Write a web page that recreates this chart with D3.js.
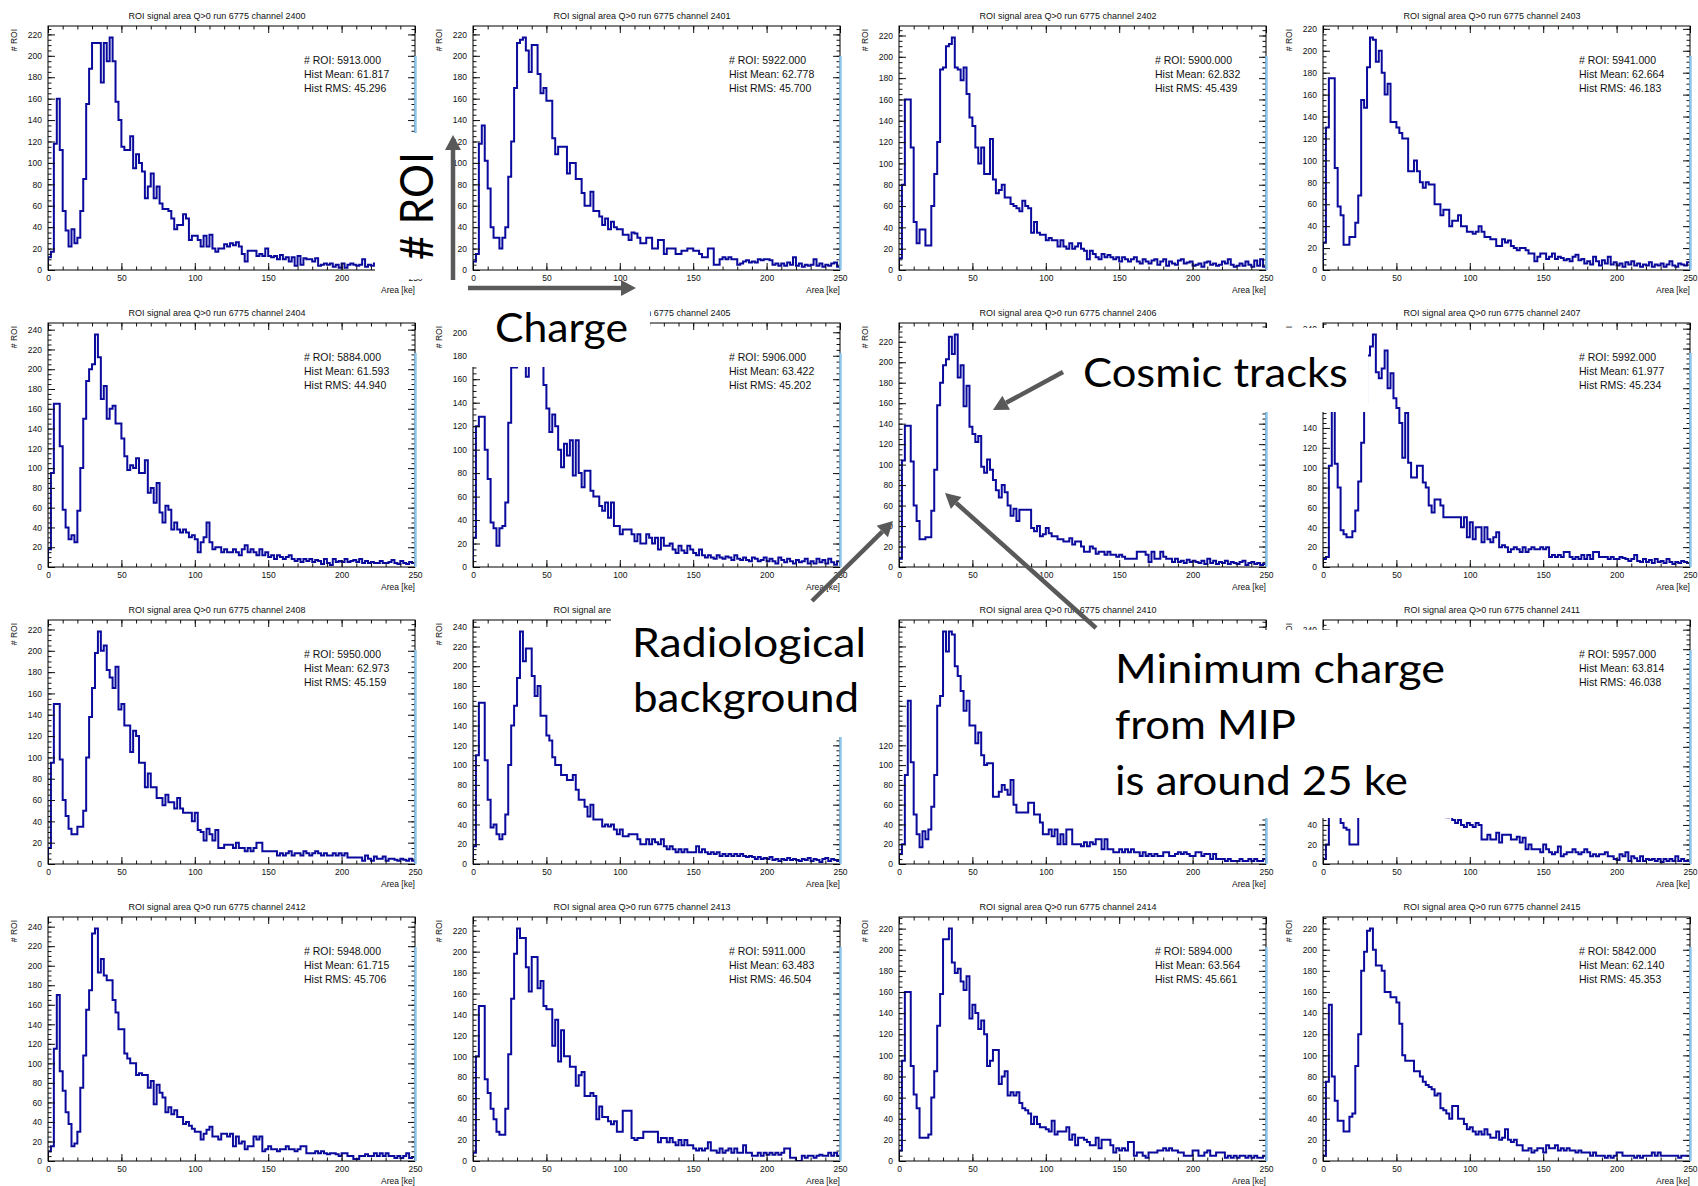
<!DOCTYPE html>
<html>
<head>
<meta charset="utf-8">
<script src="https://cdn.jsdelivr.net/npm/d3@7"></script>
<style>
  body { margin: 0; background: #fff; }
  svg { display: block; }
</style>
</head>
<body>
<div id="chart"></div>
<script>
// channel ids, one panel each (row-major, 4 x 4)
const channels = [2400, 2401, 2402, 2403, 2404, 2405, 2406, 2407, 2408, 2409, 2410, 2411, 2412, 2413, 2414, 2415];

// stats box values (null where the slide covers them)
const nRoi     = [5913, 5922, 5900, 5941, 5884, 5906, null, 5992, 5950, null, null, 5957, 5948, 5911, 5894, 5842];
const histMean = [61.817, 62.778, 62.832, 62.664, 61.593, 63.422, null, 61.977, 62.973, null, null, 63.814, 61.715, 63.483, 63.564, 62.140];
const histRms  = [45.296, 45.700, 45.439, 46.183, 44.940, 45.202, null, 45.234, 45.159, null, null, 46.038, 45.706, 46.504, 45.661, 45.353];

// bin contents, 2 ke bins from 0 to 250 ke
const c2400 = [12,17,118,160,112,55,37,22,38,25,30,55,85,155,188,212,212,212,175,212,195,217,195,157,140,115,112,112,125,95,108,100,92,67,78,90,67,78,62,57,57,55,48,38,42,42,52,48,28,32,32,28,22,32,22,33,20,17,20,20,24,22,25,23,26,22,15,8,18,18,18,13,15,13,20,13,12,13,10,14,10,12,8,12,4,13,5,11,10,10,8,11,4,5,6,5,6,3,5,2,6,2,5,6,5,4,5,10,3,5,4,6,3,5,4,3,5,4,3,5,4,2,4,3,3];
const c2401 = [8,15,118,135,102,76,40,30,30,20,30,40,87,120,170,212,215,217,205,185,210,210,183,165,170,158,158,123,108,115,115,115,90,100,100,85,85,72,60,60,73,55,55,50,42,48,38,45,40,38,38,33,33,28,35,34,30,25,25,30,30,20,20,28,28,15,20,20,20,15,15,18,18,20,20,18,18,15,12,12,20,20,5,5,10,12,10,12,10,10,5,6,8,9,7,8,7,10,9,10,10,9,5,6,4,6,4,7,5,12,4,6,3,5,4,5,10,4,6,3,5,4,6,7,3];
const c2402 = [11,80,160,160,115,45,25,38,38,23,23,60,90,120,188,190,210,212,218,190,188,178,190,165,143,135,115,100,115,90,90,123,85,72,75,80,68,68,62,60,58,55,65,60,58,35,45,35,33,33,28,30,28,28,22,28,22,20,25,20,22,25,20,18,10,18,15,12,10,15,12,14,12,10,12,8,12,10,8,10,12,8,6,10,8,6,9,10,5,8,10,4,8,6,5,9,10,6,7,8,4,5,6,3,7,8,5,6,4,5,8,6,10,5,3,4,6,4,8,5,3,9,4,10,3];
const c2403 = [25,130,175,175,93,58,50,23,23,30,30,43,68,155,148,185,212,210,190,200,180,160,170,135,135,130,125,120,120,90,90,100,90,80,75,80,78,78,60,60,50,55,55,40,45,45,50,40,40,35,35,33,35,40,35,30,30,28,28,22,22,28,25,27,22,20,18,20,20,18,15,15,8,12,15,15,10,12,15,10,12,11,9,10,8,12,14,9,10,6,8,5,12,8,4,9,6,12,5,7,4,6,3,7,5,8,4,6,3,5,4,7,3,5,4,6,3,5,8,4,3,6,5,4,7];
const c2404 = [18,95,165,165,122,58,40,28,32,25,57,100,150,188,200,205,235,212,170,183,150,160,163,145,145,130,112,98,103,100,110,95,95,108,75,80,65,85,55,45,62,58,38,45,38,35,38,35,30,32,28,15,25,30,45,25,18,20,20,15,18,15,15,18,15,12,18,22,15,18,15,12,18,12,15,10,12,8,12,10,8,10,12,8,6,8,5,8,6,8,5,7,6,3,8,4,2,8,5,6,5,8,5,6,7,5,8,4,6,4,5,4,4,6,4,4,5,7,4,3,6,4,3,5,4];
const c2405 = [25,120,128,128,100,75,38,33,18,33,35,55,123,170,170,185,195,198,162,185,190,178,172,172,155,135,115,130,120,100,85,105,95,108,78,108,80,68,82,82,65,60,60,52,48,55,42,55,35,35,28,32,32,32,28,22,28,20,20,28,25,20,25,15,25,18,18,20,15,12,18,14,12,18,15,12,10,15,10,8,10,8,7,10,8,7,9,8,6,10,7,6,8,6,5,8,7,5,6,8,5,7,5,3,8,6,4,7,5,3,6,4,5,7,3,5,3,7,4,6,3,7,4,2,5];
const c2406 = [8,104,138,138,103,60,45,27,27,29,29,55,95,158,180,197,203,225,208,227,185,197,157,177,137,130,122,128,98,92,105,95,85,75,68,80,73,60,50,57,45,56,56,56,56,38,35,40,30,32,38,33,30,30,27,27,25,25,28,22,25,25,20,15,15,20,18,13,15,15,12,15,12,12,10,12,10,8,8,8,8,15,15,15,12,5,15,8,8,15,10,8,8,5,8,5,6,4,7,5,6,5,4,6,3,8,4,6,3,5,4,6,3,5,4,3,5,6,2,4,5,3,4,2,3];
const c2407 = [8,10,102,162,104,80,37,33,30,30,36,57,86,125,165,213,222,234,196,190,200,218,180,195,170,160,145,110,155,105,90,90,102,102,85,80,62,55,68,68,62,50,50,50,50,50,50,40,50,30,45,28,40,40,25,40,28,25,30,35,20,22,20,15,18,20,18,15,20,15,18,20,18,18,20,18,20,10,12,10,12,10,15,15,10,8,10,8,12,8,12,8,15,15,10,10,10,8,10,8,8,10,9,8,6,8,12,6,5,8,5,7,4,8,5,6,4,8,5,3,5,4,6,5,4];
const c2408 = [15,95,150,150,98,60,45,33,28,28,35,35,50,100,138,165,198,218,200,205,182,175,165,185,145,150,130,130,105,125,120,95,95,72,85,72,72,62,62,55,65,58,58,52,62,52,48,48,48,40,48,32,30,22,33,28,22,32,15,15,18,18,18,15,20,15,15,12,15,12,15,20,20,12,12,12,12,12,8,10,8,10,12,8,10,10,8,12,10,8,10,12,10,8,10,8,8,10,8,10,8,10,6,6,6,6,6,3,8,5,3,7,5,5,7,3,5,5,4,3,5,4,3,5,3];
const c2409 = [18,110,163,163,105,65,37,40,30,25,30,50,100,140,160,188,235,205,218,218,190,170,180,150,150,130,125,108,100,100,90,90,85,85,90,75,65,65,58,48,60,45,45,45,38,40,38,40,35,30,35,28,28,30,30,30,25,20,20,25,20,25,22,20,25,18,15,18,15,12,15,12,15,12,12,12,18,12,15,12,10,12,10,12,8,10,8,10,8,10,8,10,8,7,8,7,5,7,5,6,5,7,4,5,3,5,4,6,4,5,4,3,5,4,6,3,5,4,2,5,6,3,5,4,3];
const c2410 = [10,20,90,165,103,50,30,17,33,25,35,58,90,160,170,235,215,235,232,200,190,175,155,165,140,140,122,133,110,100,102,102,68,68,73,80,75,70,85,60,52,52,52,52,62,62,50,50,42,30,30,35,28,35,20,30,20,35,35,20,20,20,18,22,18,22,20,25,25,15,25,15,15,12,12,15,12,15,12,15,12,12,8,12,8,10,8,10,8,8,12,12,8,8,10,12,10,12,10,8,8,12,12,8,10,10,5,10,5,5,5,3,5,3,3,3,5,3,3,5,3,5,3,3,5];
const c2411 = [5,20,130,168,110,65,42,37,35,20,20,20,60,120,175,200,238,215,220,205,190,185,165,170,145,140,125,118,105,110,98,95,85,88,75,70,72,60,62,55,52,55,48,50,45,42,45,40,38,42,40,38,42,40,25,25,30,25,25,32,22,30,30,30,25,25,28,22,27,15,20,15,15,15,12,20,15,12,10,12,18,8,10,12,12,15,12,10,12,15,12,8,10,8,10,10,12,8,8,5,4,10,8,12,3,8,6,3,8,3,5,4,5,3,5,2,5,3,5,3,8,3,5,3,3];
const c2412 = [10,15,115,170,92,72,50,38,15,18,30,75,108,155,175,233,238,193,207,190,185,185,165,152,135,135,110,105,100,100,88,90,88,88,75,82,58,78,70,65,50,55,48,52,45,45,38,40,36,33,30,30,22,28,32,35,25,25,22,28,28,25,28,15,25,18,20,12,15,15,25,22,25,10,12,15,12,12,10,12,12,15,12,12,10,12,15,15,8,8,8,10,8,10,8,7,8,8,7,5,8,8,5,5,2,2,5,5,7,5,5,8,5,8,5,8,5,5,3,5,3,5,8,3,4];
const c2413 = [8,100,148,148,78,65,50,40,28,25,25,50,102,155,198,222,213,213,185,162,195,195,165,172,148,145,145,110,135,95,125,100,100,90,90,72,82,85,62,62,65,62,40,52,42,42,38,35,38,28,28,48,48,48,22,20,22,22,28,28,28,28,28,18,22,22,18,22,18,15,20,15,20,15,15,12,10,12,10,12,18,10,10,8,12,8,10,12,8,12,8,8,15,8,8,5,5,8,5,8,6,8,6,8,6,8,12,12,3,3,0,0,5,3,5,5,3,5,6,5,5,8,5,8,5];
const c2414 = [10,95,160,160,90,63,50,22,22,22,25,60,85,128,158,210,210,220,188,178,182,170,162,175,135,148,140,125,133,120,90,95,105,105,73,80,85,62,65,62,65,55,50,48,45,35,42,35,32,32,30,28,38,25,28,28,28,32,20,25,15,22,22,20,18,15,15,22,12,20,20,20,15,8,12,10,12,10,18,18,5,8,8,5,3,8,8,8,10,10,12,10,12,10,10,8,8,5,5,5,10,10,5,5,8,10,5,5,8,8,8,3,5,3,5,3,5,5,3,5,3,5,3,3,5];
const c2415 = [5,75,148,80,57,38,38,28,28,42,45,90,120,180,198,218,220,200,185,185,180,160,160,155,155,150,130,100,95,95,95,85,85,80,75,72,70,68,62,64,50,48,45,40,52,52,40,40,35,30,32,28,25,28,25,30,25,22,22,28,20,22,30,20,18,20,15,15,10,10,12,8,10,12,12,8,15,12,12,15,10,12,10,12,10,10,8,10,8,8,8,5,8,5,5,5,3,5,3,5,8,8,5,5,5,5,3,5,3,5,5,5,8,5,8,5,5,5,5,5,5,3,5,5,5];

const allCounts = [c2400, c2401, c2402, c2403, c2404, c2405, c2406, c2407,
                   c2408, c2409, c2410, c2411, c2412, c2413, c2414, c2415];

const xMajor = [0, 50, 100, 150, 200, 250];

// ---------------------------------------------------------------
const W = 1698, H = 1186;
const colLeft = [48, 473, 899, 1323];
const rowTop = [26, 323, 620, 917];
const fw = 367, fh = 244;
const rootFont = "'Liberation Sans', Arial, sans-serif";
const lineColor = "#0a0a9c";

const svg = d3.select("#chart").append("svg")
  .attr("width", W)
  .attr("height", H)
  .style("background", "#fff");

const defs = svg.append("defs");
defs.append("clipPath").attr("id", "frameClip")
  .append("rect").attr("width", fw).attr("height", fh);

const styleAxis = (g) => {
  g.select(".domain").remove();
  g.attr("font-family", rootFont).attr("font-size", 8.5).attr("color", "#111");
};

allCounts.forEach((vals, k) => {
  const col = k % 4, row = Math.floor(k / 4);
  const g = svg.append("g").attr("transform", `translate(${colLeft[col]},${rowTop[row]})`);

  const x = d3.scaleLinear().domain([0, 250]).range([0, fw]);
  const yMax = d3.max(vals) * 1.05;
  const y = d3.scaleLinear().domain([0, yMax]).range([fh, 0]);
  const binW = 250 / vals.length;

  // title
  g.append("text")
    .attr("x", 169).attr("y", -7.5)
    .attr("text-anchor", "middle")
    .attr("font-family", rootFont).attr("font-size", 9).attr("fill", "#111")
    .text(`ROI signal area Q>0 run 6775 channel ${channels[k]}`);

  // histogram outline
  const pts = [[0, 0]].concat(vals.map((v, i) => [i * binW, v]), [[250, vals[vals.length - 1]], [250, 0]]);
  const line = d3.line().x(d => x(d[0])).y(d => y(d[1])).curve(d3.curveStepAfter);
  g.append("path")
    .attr("d", line(pts))
    .attr("fill", "none")
    .attr("stroke", lineColor)
    .attr("stroke-width", 2)
    .attr("clip-path", "url(#frameClip)");

  // ticks, all four sides, pointing in
  const yMajor = d3.range(0, yMax, 20);
  const yMinor = d3.range(0, yMax, 5);
  const xMinor = d3.range(0, 251, 10);

  g.append("g").attr("transform", `translate(0,${fh})`)
    .call(d3.axisBottom(x).tickValues(xMinor).tickSize(-3.5).tickFormat("")).call(styleAxis);
  g.append("g").attr("transform", `translate(0,${fh})`)
    .call(d3.axisBottom(x).tickValues(xMajor).tickSize(-7).tickPadding(5)).call(styleAxis);
  g.append("g")
    .call(d3.axisTop(x).tickValues(xMinor).tickSize(-3.5).tickFormat("")).call(styleAxis);
  g.append("g")
    .call(d3.axisTop(x).tickValues(xMajor).tickSize(-7).tickFormat("")).call(styleAxis);
  g.append("g")
    .call(d3.axisLeft(y).tickValues(yMinor).tickSize(-3.5).tickFormat("")).call(styleAxis);
  g.append("g")
    .call(d3.axisLeft(y).tickValues(yMajor).tickSize(-7).tickPadding(6)).call(styleAxis);
  g.append("g").attr("transform", `translate(${fw},0)`)
    .call(d3.axisRight(y).tickValues(yMinor).tickSize(-3.5).tickFormat("")).call(styleAxis);
  g.append("g").attr("transform", `translate(${fw},0)`)
    .call(d3.axisRight(y).tickValues(yMajor).tickSize(-7).tickFormat("")).call(styleAxis);

  // frame
  g.append("rect")
    .attr("width", fw).attr("height", fh)
    .attr("fill", "none").attr("stroke", "#000").attr("stroke-width", 1);

  // light blue strip on the right edge (screenshot artefact)
  g.append("line")
    .attr("x1", fw + 0.5).attr("x2", fw + 0.5)
    .attr("y1", 30).attr("y2", fh)
    .attr("stroke", "#8cc6ee").attr("stroke-width", 2.5);

  // axis titles
  g.append("text")
    .attr("x", fw).attr("y", fh + 23)
    .attr("text-anchor", "end")
    .attr("font-family", rootFont).attr("font-size", 8.5).attr("fill", "#111")
    .text("Area [ke]");
  g.append("text")
    .attr("transform", `translate(-31,3) rotate(-90)`)
    .attr("text-anchor", "end")
    .attr("font-family", rootFont).attr("font-size", 8.5).attr("fill", "#111")
    .text("# ROI");

  // stats
  if (nRoi[k] !== null) {
    const lines = [
      `# ROI: ${nRoi[k].toFixed(3)}`,
      `Hist Mean: ${histMean[k].toFixed(3)}`,
      `Hist RMS: ${histRms[k].toFixed(3)}`
    ];
    g.append("g")
      .attr("font-family", rootFont).attr("font-size", 10.5).attr("fill", "#111")
      .selectAll("text")
      .data(lines)
      .join("text")
      .attr("x", 256)
      .attr("y", (d, i) => 38 + i * 14)
      .text(d => d);
  }
});

// ---------------------------------------------------------------
// slide annotations: white text boxes, labels and grey arrows
const ann = svg.append("g");

const boxes = [
  [375, 133, 68, 146],    // # ROI
  [472, 300, 178, 67],    // Charge
  [1075, 328, 293, 84],   // Cosmic tracks
  [611, 603, 285, 134],   // Radiological background
  [1100, 630, 370, 188]   // Minimum charge ...
];
ann.selectAll("rect.box")
  .data(boxes)
  .join("rect")
  .attr("class", "box")
  .attr("x", d => d[0]).attr("y", d => d[1])
  .attr("width", d => d[2]).attr("height", d => d[3])
  .attr("fill", "#fff");

const annFont = "Lato, 'Open Sans', sans-serif";
const labels = [
  { text: "Charge", x: 495, y: 342, len: 133 },
  { text: "Cosmic tracks", x: 1083, y: 387, len: 265 },
  { text: "Radiological", x: 632, y: 657, len: 234 },
  { text: "background", x: 633, y: 712, len: 226 },
  { text: "Minimum charge", x: 1115, y: 683, len: 330 },
  { text: "from MIP", x: 1115, y: 739, len: 181 },
  { text: "is around 25 ke", x: 1115, y: 795, len: 293 }
];
ann.selectAll("text.lab")
  .data(labels)
  .join("text")
  .attr("class", "lab")
  .attr("x", d => d.x).attr("y", d => d.y)
  .attr("font-family", annFont).attr("font-size", 40).attr("fill", "#000")
  .attr("textLength", d => d.len).attr("lengthAdjust", "spacingAndGlyphs")
  .text(d => d.text);

ann.append("text")
  .attr("transform", "translate(433,260) rotate(-90)")
  .attr("font-family", annFont).attr("font-size", 46).attr("fill", "#000")
  .attr("textLength", 108).attr("lengthAdjust", "spacingAndGlyphs")
  .text("# ROI");

const arrows = [
  { from: [453, 280], to: [453, 135] },
  { from: [468, 288], to: [636, 288] },
  { from: [1063, 372], to: [993, 410] },
  { from: [812, 601], to: [893, 521] },
  { from: [1096, 628], to: [945, 493] }
];
const grey = "#595959";
arrows.forEach(a => {
  const [x1, y1] = a.from, [x2, y2] = a.to;
  const ang = Math.atan2(y2 - y1, x2 - x1);
  const hl = 15, hw = 8;
  const bx = x2 - hl * Math.cos(ang), by = y2 - hl * Math.sin(ang);
  ann.append("line")
    .attr("x1", x1).attr("y1", y1).attr("x2", bx).attr("y2", by)
    .attr("stroke", grey).attr("stroke-width", 4.5);
  ann.append("path")
    .attr("d", `M${x2},${y2}L${bx + hw * Math.sin(ang)},${by - hw * Math.cos(ang)}L${bx - hw * Math.sin(ang)},${by + hw * Math.cos(ang)}Z`)
    .attr("fill", grey);
});
</script>
</body>
</html>
